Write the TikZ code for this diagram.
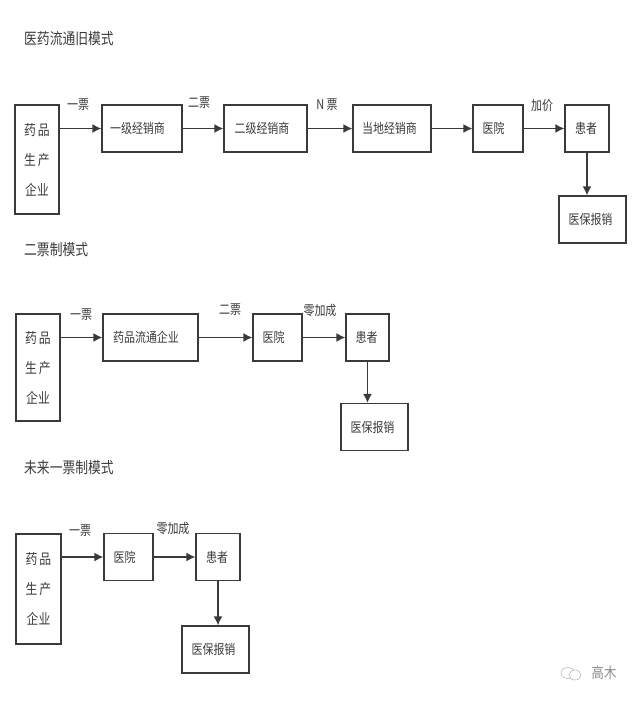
\documentclass[tikz,border=0pt]{standalone}
\usepackage{fontspec}
\setmainfont[FakeStretch=0.82]{Noto Sans CJK SC}
\usetikzlibrary{arrows.meta}
\definecolor{inkgray}{HTML}{3A3A3A}
\tikzset{
    box/.style={draw=inkgray, line width=1.2pt, inner sep=0pt, text=inkgray, font=\fontsize{13.4}{15}\selectfont},
    smallbox/.style={box, minimum height=47pt},
    makerbox/.style={box, align=center, font=\fontsize{14.4}{30}\selectfont},
    flow/.style={draw=inkgray, line width=1.6pt, -{Latex[length=9pt,width=9pt]}},
    tag/.style={inner sep=0pt, text=inkgray, font=\fontsize{13.4}{15}\selectfont},
    title/.style={inner sep=0pt, anchor=west, text=inkgray, font=\fontsize{15.6}{18}\selectfont}
}
\newcommand{\makertext}{药\hspace{2pt}品\\生\hspace{2pt}产\\企业}
\begin{document}
\begin{tikzpicture}[x=1pt,y=-1pt]
    \useasboundingbox (0,0) rectangle (640,701);
    % old model
    \node[title] (titleA) at (24,39) {医药流通旧模式};
    \node[makerbox, minimum width=44pt, minimum height=109pt] (makerA) at (37,159.5) {\makertext};
    \node[smallbox, minimum width=80pt] (distA) at (142,128.5) {\hspace*{-9pt}一级经销商};
    \node[smallbox, minimum width=83pt] (distB) at (265.5,128.5) {\hspace*{-7pt}二级经销商};
    \node[smallbox, minimum width=78pt] (distC) at (392,128.5) {\hspace*{-5pt}当地经销商};
    \node[smallbox, minimum width=50pt] (hospA) at (498,128.5) {\hspace*{-9pt}医院};
    \node[smallbox, minimum width=44pt] (patA) at (587,128.5) {\hspace*{-2pt}患者};
    \node[smallbox, minimum width=67pt] (insA) at (592.5,219.5) {\hspace*{-4pt}医保报销};
    \draw[flow] (makerA.east |- distA) -- (distA);
    \draw[flow] (distA) -- (distB);
    \draw[flow] (distB) -- (distC);
    \draw[flow] (distC) -- (hospA);
    \draw[flow] (hospA) -- (patA);
    \draw[flow] (patA) -- (patA |- insA.north);
    \node[tag] (tagA) at (78,105) {一票};
    \node[tag] (tagB) at (199,103) {二票};
    \node[tag] (tagC) at (327,105) {N 票};
    \node[tag] (tagD) at (542,105) {加价};
    % two invoice model
    \node[title] (titleB) at (24,250) {二票制模式};
    \node[makerbox, minimum width=44pt, minimum height=107pt] (makerB) at (38,367.5) {\makertext};
    \node[smallbox, minimum width=95pt] (distD) at (150.5,337.5) {\hspace*{-9pt}药品流通企业};
    \node[smallbox, minimum width=49pt] (hospB) at (277.5,337.5) {\hspace*{-8pt}医院};
    \node[smallbox, minimum width=43pt] (patB) at (367.5,337.5) {\hspace*{-2pt}患者};
    \node[smallbox, minimum width=67pt] (insB) at (374.5,427) {\hspace*{-4pt}医保报销};
    \draw[flow] (makerB.east |- distD) -- (distD);
    \draw[flow] (distD) -- (hospB);
    \draw[flow] (hospB) -- (patB);
    \draw[flow] (patB) -- (patB |- insB.north);
    \node[tag] (tagE) at (81,315) {一票};
    \node[tag] (tagF) at (230,310) {二票};
    \node[tag] (tagG) at (320,310) {零加成};
    % one invoice model
    \node[title] (titleC) at (24,468) {未来一票制模式};
    \node[makerbox, minimum width=45pt, minimum height=110pt] (makerC) at (38.5,589) {\makertext};
    \node[smallbox, minimum width=49pt] (hospC) at (128.5,557) {\hspace*{-8pt}医院};
    \node[smallbox, minimum width=44pt] (patC) at (218,557) {\hspace*{-2pt}患者};
    \node[smallbox, minimum width=67pt] (insC) at (215.5,649.5) {\hspace*{-4pt}医保报销};
    \draw[flow] (makerC.east |- hospC) -- (hospC);
    \draw[flow] (hospC) -- (patC);
    \draw[flow] (patC) -- (patC |- insC.north);
    \node[tag] (tagH) at (80,531) {一票};
    \node[tag] (tagI) at (173,528) {零加成};
    % watermark
    \draw[gray!60, line width=0.5pt] (568,673) ellipse (7pt and 5.5pt);
    \draw[gray!60, line width=0.5pt, fill=white] (575,675) ellipse (6pt and 5pt);
    \node[tag, text=gray!90, font=\fontsize{15}{17}\selectfont] (mark) at (604,673) {高木};
\end{tikzpicture}
\end{document}
